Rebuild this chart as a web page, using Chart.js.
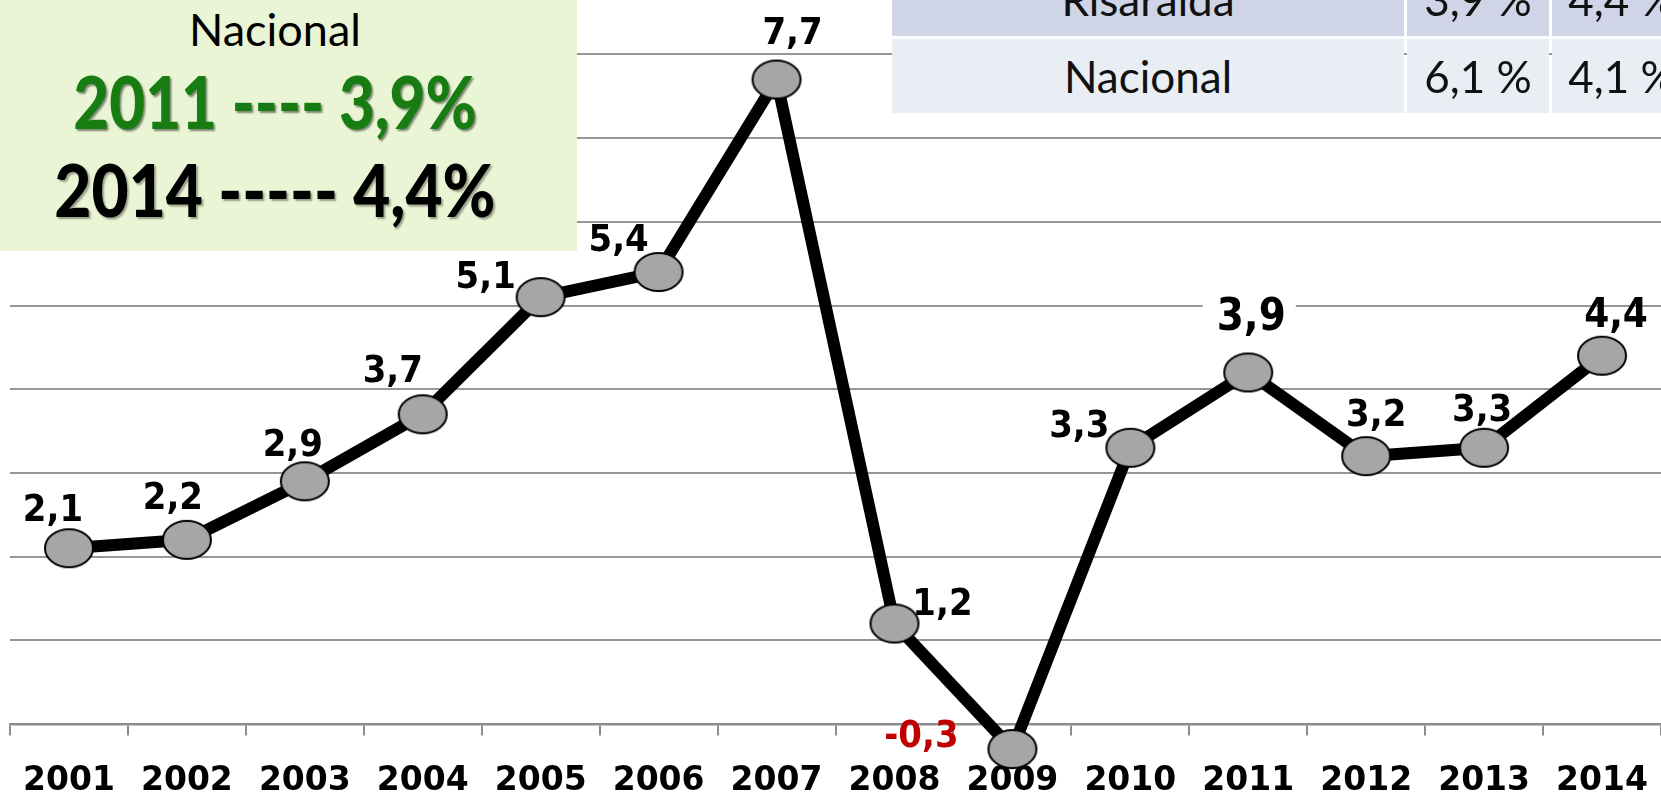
<!DOCTYPE html>
<html>
<head>
<meta charset="utf-8">
<script src="https://cdn.jsdelivr.net/npm/chart.js@4.4.1/dist/chart.umd.min.js"></script>
<style>
  html, body { margin:0; padding:0; background:#fff; overflow:hidden; }
  #wrap { position:relative; width:1661px; height:801px; overflow:hidden; }
  #chartBox { position:absolute; left:0; top:0; width:1661px; height:801px; }
  #resumen { position:absolute; left:0; top:0; width:577px; height:251px; background:#e9f5d4; }
  #resumen .ln { position:absolute; left:0; width:550px; text-align:center; font-family:Lato, sans-serif; line-height:1; white-space:nowrap; }
  #tabla .cell { position:absolute; height:74px; line-height:74px; font-family:Lato, sans-serif; font-size:44px; color:#111; text-align:center; white-space:nowrap; }
</style>
</head>
<body>
<div id="wrap">
  <div id="chartBox"><canvas id="pibChart"></canvas></div>
  <div id="resumen"></div>
  <div id="tabla"></div>
</div>
<script>
document.addEventListener('DOMContentLoaded', () => {

  // datos
  const years = ['2001','2002','2003','2004','2005','2006','2007','2008','2009','2010','2011','2012','2013','2014'];
  // valores tal como están dibujados (2011 aparece en ~4,2 aunque la etiqueta dice 3,9)
  const crecimiento = [2.1, 2.2, 2.9, 3.7, 5.1, 5.4, 7.7, 1.2, -0.3, 3.3, 4.2, 3.2, 3.3, 4.4];
  const etiquetas = ['2,1','2,2','2,9','3,7','5,1','5,4','7,7','1,2','-0,3','3,3','3,9','3,2','3,3','4,4'];

  const tablaNombres = ['Risaralda', 'Nacional'];
  const tablaCol1 = ['3,9 %', '6,1 %'];
  const tablaCol2 = ['4,4 %', '4,1 %'];

  const resumenTitulo = 'Nacional';
  const resumenLinea1 = '2011 ---- 3,9%';
  const resumenLinea2 = '2014 ----- 4,4%';

  // caja verde
  const resumen = document.getElementById('resumen');
  const lines = [
    {t:resumenTitulo, fs:45, w:'normal', top:7, color:'#000', sx:1, shadow:'none'},
    {t:resumenLinea1, fs:72, w:'900', top:65, color:'#177d12', sx:0.86, shadow:'2px 2px 2px rgba(0,0,0,0.45)'},
    {t:resumenLinea2, fs:72, w:'900', top:153, color:'#000', sx:0.89, shadow:'2px 2px 2px rgba(0,0,0,0.35)'}
  ];
  lines.forEach(l => {
    const d = document.createElement('div');
    d.className = 'ln';
    d.textContent = l.t;
    d.style.top = l.top + 'px';
    d.style.fontSize = l.fs + 'px';
    d.style.fontWeight = l.w;
    d.style.color = l.color;
    d.style.textShadow = l.shadow;
    d.style.transform = 'scaleX(' + l.sx + ')';
    resumen.appendChild(d);
  });

  // tabla arriba a la derecha
  const tabla = document.getElementById('tabla');
  const cols = [[892,512],[1407,142],[1552,140]];
  const rowTop = [-38, 39];
  const rowBg = ['#cfd5e7', '#e9edf4'];
  tablaNombres.forEach((n, r) => {
    [n, tablaCol1[r], tablaCol2[r]].forEach((txt, c) => {
      const d = document.createElement('div');
      d.className = 'cell';
      d.textContent = txt;
      d.style.left = cols[c][0] + 'px';
      d.style.width = cols[c][1] + 'px';
      d.style.top = rowTop[r] + 'px';
      d.style.background = rowBg[r];
      tabla.appendChild(d);
    });
  });

  // marcador elíptico
  const marker = document.createElement('canvas');
  marker.width = 52; marker.height = 42;
  const mctx = marker.getContext('2d');
  mctx.beginPath();
  mctx.ellipse(26, 21, 24, 19, 0, 0, Math.PI * 2);
  mctx.fillStyle = '#a6a6a6';
  mctx.fill();
  mctx.lineWidth = 2;
  mctx.strokeStyle = '#000';
  mctx.stroke();

  // etiquetas de datos: desplazamiento (dx, dy a la línea base)
  const labelPos = [[-16,-27],[-14,-31],[-12,-25],[-30,-32],[-55,-9],[-40,-21],[16,-36],[48,-9],[-91,-2],[-51,-11],[3,-42],[10,-30],[-2,-27],[14,-29]];
  const labelSize = [34,34,34,34,34,34,34,34,34,34,39,34,34,36];

  const dataLabels = {
    id: 'dataLabels',
    afterDatasetsDraw(chart) {
      const ctx = chart.ctx;
      const meta = chart.getDatasetMeta(0);
      meta.data.forEach((pt, i) => {
        const x = pt.x + labelPos[i][0];
        const y = pt.y + labelPos[i][1];
        ctx.save();
        ctx.font = 'bold ' + labelSize[i] + 'px "DejaVu Sans"';
        ctx.textAlign = 'center';
        ctx.textBaseline = 'alphabetic';
        if (i === 10) {
          const w = ctx.measureText(etiquetas[i]).width;
          ctx.fillStyle = '#fff';
          ctx.fillRect(x - w / 2 - 14, y - labelSize[i] * 0.95, w + 24, labelSize[i] * 1.1);
        }
        ctx.translate(x, y);
        ctx.scale(1, 1.12);
        ctx.fillStyle = etiquetas[i].startsWith('-') ? '#c00000' : '#000';
        ctx.fillText(etiquetas[i], 0, 0);
        ctx.restore();
      });
    }
  };

  const ctx = document.getElementById('pibChart').getContext('2d');
  new Chart(ctx, {
    type: 'line',
    data: {
      labels: years,
      datasets: [{
        data: crecimiento,
        borderColor: '#000',
        borderWidth: 12,
        borderJoinStyle: 'round',
        tension: 0,
        pointStyle: marker,
        pointRadius: 22,
        pointHoverRadius: 22
      }]
    },
    options: {
      responsive: true,
      maintainAspectRatio: false,
      animation: false,
      layout: { autoPadding: false, padding: { left: 10, right: -5, top: 0, bottom: 0 } },
      plugins: { legend: { display: false }, tooltip: { enabled: false } },
      scales: {
        x: {
          position: { y: 0 },
          offset: true,
          afterFit: (scale) => { scale.paddingLeft = 0; scale.paddingRight = -5; },
          grid: { display: true, drawOnChartArea: false, drawTicks: true, tickLength: 10, color: '#8c8c8c', lineWidth: 2, offset: true },
          border: { display: true, color: '#8c8c8c', width: 2.5 },
          ticks: { color: '#000', padding: 28, maxRotation: 0, autoSkip: false, font: { family: 'DejaVu Sans', size: 33, weight: 'bold' } }
        },
        y: {
          min: -0.92,
          max: 8.65,
          ticks: { display: false, stepSize: 1, includeBounds: false },
          afterBuildTicks: (scale) => { scale.ticks = scale.ticks.filter(t => t.value >= 0 && t.value <= 8); },
          grid: { color: '#969696', lineWidth: 2, drawTicks: false },
          border: { display: false }
        }
      }
    },
    plugins: [dataLabels]
  });

});
</script>
</body>
</html>
